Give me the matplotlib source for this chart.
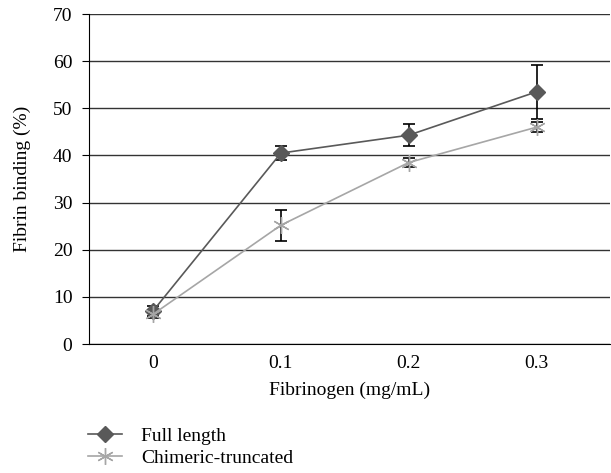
import matplotlib.pyplot as plt

plt.rcParams['font.family'] = ['Liberation Serif', 'DejaVu Serif']

fibrinogen = ['0', '0.1', '0.2', '0.3']
full_length = [7.0, 40.5, 44.3, 53.5]
full_length_err = [1.0, 1.4, 2.4, 5.7]
chimeric = [6.3, 25.2, 38.5, 46.0]
chimeric_err = [0.8, 3.3, 1.0, 1.0]

fig = plt.figure(figsize=(6.11, 4.73), dpi=100)
ax = fig.add_axes([0.1457, 0.2727, 0.852, 0.6977])

x = list(range(len(fibrinogen)))

ax.errorbar(x, full_length, yerr=full_length_err, fmt='none', ecolor='black',
            elinewidth=1.2, capsize=4, capthick=1.2, zorder=3)
ax.errorbar(x, chimeric, yerr=chimeric_err, fmt='none', ecolor='black',
            elinewidth=1.2, capsize=4, capthick=1.2, zorder=3)

ax.plot(x, full_length, color='#595959', lw=1.2, marker='D', markersize=8,
        markerfacecolor='#595959', markeredgecolor='#595959', label='Full length', zorder=4)
ax.plot(x, chimeric, color='#a6a6a6', lw=1.2, marker=(6, 2, 0), markersize=12,
        markeredgewidth=1.0, markeredgecolor='#a6a6a6', label='Chimeric-truncated', zorder=4)

ax.set_xlim(-0.5, 3.57)
ax.set_ylim(0, 70)
ax.set_yticks(range(0, 71, 10))
ax.set_xticks(x)
ax.set_xticklabels(fibrinogen)
ax.yaxis.grid(True, color='#333333', lw=1.0)
ax.set_axisbelow(True)

for s in ['top', 'right']:
    ax.spines[s].set_visible(False)
ax.spines['left'].set_color('black')
ax.spines['bottom'].set_color('black')
ax.tick_params(axis='y', direction='out', length=5, labelsize=14, pad=7)
ax.tick_params(axis='x', length=0, labelsize=14, pad=8)

ax.set_xlabel('Fibrinogen (mg/mL)', fontsize=14, labelpad=7)
ax.set_ylabel('Fibrin binding (%)', fontsize=14, labelpad=16)

fig.legend(loc='upper left', bbox_to_anchor=(0.144, 0.097), frameon=False,
           fontsize=14, handlelength=1.75, labelspacing=0.24, borderpad=0,
           borderaxespad=0, handletextpad=1.0)

fig.savefig('out.png', dpi=100)
